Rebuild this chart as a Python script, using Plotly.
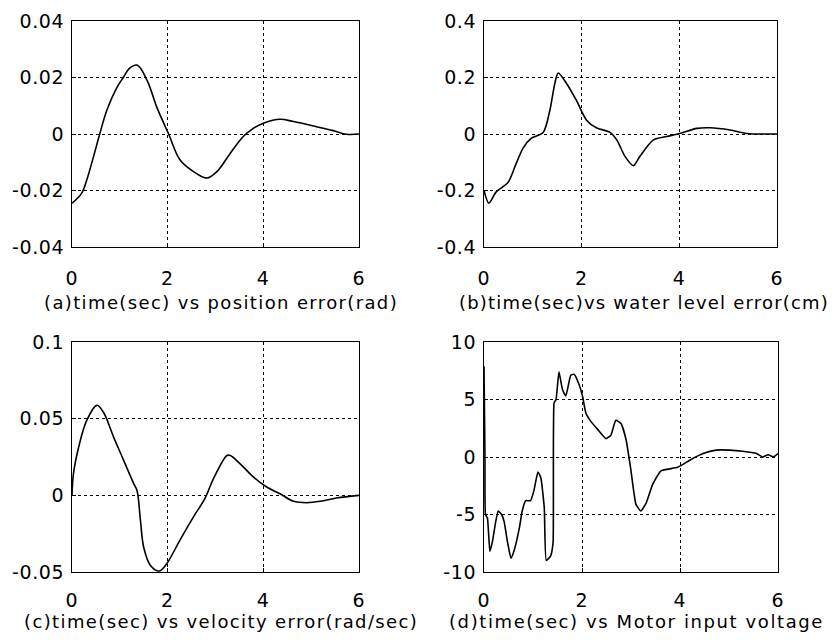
import plotly.graph_objects as go

# (a) position error (rad)
t_a = [0, 0.2, 0.31, 0.45, 0.58, 0.73, 0.94, 1.08, 1.2, 1.36, 1.57, 1.77, 2.02, 2.26,
       2.54, 2.82, 3.03, 3.31, 3.58, 3.79, 4.0, 4.35, 4.63, 5.11, 5.46, 5.74, 6.0]
err_a = [-0.0245, -0.021, -0.0162, -0.008, 0.0, 0.0085, 0.0165, 0.0202, 0.0232, 0.0244,
         0.019, 0.0096, 0.0, -0.0092, -0.0133, -0.0156, -0.0133, -0.0068, -0.0009, 0.002,
         0.0038, 0.0052, 0.0044, 0.0026, 0.0012, -0.0001, 0.0]

# (b) water level error (cm)
t_b = [0, 0.1, 0.25, 0.49, 0.66, 0.8, 0.97, 1.21, 1.35, 1.45, 1.52, 1.69, 1.89, 2.1,
       2.3, 2.58, 2.72, 2.89, 3.06, 3.19, 3.47, 3.74, 4.01, 4.36, 4.63, 5.04, 5.38, 6.0]
err_b = [-0.2, -0.245, -0.205, -0.172, -0.104, -0.05, -0.015, 0.005, 0.085, 0.179,
         0.216, 0.179, 0.12, 0.049, 0.022, 0.006, -0.021, -0.08, -0.112, -0.08, -0.021,
         -0.009, 0.002, 0.02, 0.022, 0.014, 0.002, 0.0]

# (c) velocity error (rad/sec)
t_c = [0, 0.03, 0.14, 0.31, 0.52, 0.66, 0.87, 1.08, 1.29, 1.36, 1.43, 1.5, 1.64, 1.83,
       1.98, 2.26, 2.54, 2.78, 2.96, 3.24, 3.31, 3.51, 3.79, 4.07, 4.35, 4.63, 4.91,
       5.19, 5.53, 6.0]
err_c = [0.0, 0.014, 0.0315, 0.049, 0.0587, 0.054, 0.038, 0.0228, 0.0076, 0.003,
         -0.016, -0.034, -0.0457, -0.0493, -0.0446, -0.029, -0.014, -0.002, 0.011,
         0.026, 0.026, 0.0207, 0.012, 0.0054, 0.001, -0.0039, -0.0048, -0.0039,
         -0.0017, 0.0]

# (d) motor input voltage
t_d = [0, 0.02, 0.03, 0.07, 0.12, 0.17, 0.24, 0.29, 0.36, 0.41, 0.48, 0.55, 0.61, 0.72,
       0.78, 0.85, 0.95, 1.02, 1.1, 1.16, 1.23, 1.27, 1.36, 1.41, 1.43, 1.47, 1.53, 1.6,
       1.67, 1.77, 1.84, 1.94, 2.01, 2.08, 2.18, 2.32, 2.49, 2.59, 2.69, 2.8, 2.9, 3.0,
       3.1, 3.2, 3.31, 3.44, 3.61, 3.95, 4.19, 4.47, 4.74, 5.01, 5.28, 5.56, 5.69, 5.8,
       5.9, 6.0]
volt_d = [7.9, 0.0, -5.0, -5.3, -8.2, -7.4, -5.6, -4.7, -5.0, -5.6, -7.4, -8.8, -8.2,
          -6.2, -4.7, -3.8, -3.8, -2.9, -1.3, -1.8, -4.4, -9.0, -8.6, -7.4, 4.7, 5.0,
          7.4, 5.9, 5.3, 7.1, 7.2, 6.3, 5.3, 3.8, 3.1, 2.4, 1.6, 1.9, 3.2, 2.9, 1.5,
          -1.2, -4.1, -4.7, -4.0, -2.4, -1.2, -0.9, -0.3, 0.3, 0.6, 0.6, 0.5, 0.3, 0.0,
          0.2, 0.0, 0.3]

x_ticks = [0, 2, 4, 6]
y_ticks_a = [-0.04, -0.02, 0, 0.02, 0.04]
y_text_a = ["-0.04", "-0.02", "0", "0.02", "0.04"]
y_ticks_b = [-0.4, -0.2, 0, 0.2, 0.4]
y_text_b = ["-0.4", "-0.2", "0", "0.2", "0.4"]
y_ticks_c = [-0.05, 0, 0.05, 0.1]
y_text_c = ["-0.05", "0", "0.05", "0.1"]
y_ticks_d = [-10, -5, 0, 5, 10]
y_text_d = ["-10", "-5", "0", "5", "10"]

captions = [
    "(a)time(sec) vs position error(rad)",
    "(b)time(sec)vs water level error(cm)",
    "(c)time(sec) vs velocity error(rad/sec)",
    "(d)time(sec) vs Motor input voltage",
]

# the page body has an 8px margin, so the figure is 8px smaller than the window
W, H = 828, 632
FONT = "DejaVu Sans"

# pixel boxes of the four plot areas (figure coords): left, right, top, bottom
boxes = [(64, 351, 13, 239), (476, 769, 13, 239), (64, 351, 334, 564), (476, 770, 334, 564)]
caption_pos = [(213, 294), (636, 294), (213, 613), (628, 613)]
caption_track = [1.37, 1.2, 1.38, 1.6]
xlabel_gap = [14, 14, 11, 11]

series = [(t_a, err_a), (t_b, err_b), (t_c, err_c), (t_d, volt_d)]
yranges = [(-0.04, 0.04), (-0.4, 0.4), (-0.05, 0.1), (-10, 10)]
yticks = [(y_ticks_a, y_text_a), (y_ticks_b, y_text_b), (y_ticks_c, y_text_c), (y_ticks_d, y_text_d)]
smooth = [1.0, 0.8, 1.0, 0.4]


def spaced(s, px):
    # scanned lettering is set wide, so open up the tracking a little
    return '<span style="letter-spacing:%spx">%s</span>' % (px, s)


fig = go.Figure()

axis_common = dict(
    showline=True, linecolor="black", linewidth=1, mirror=True,
    showgrid=True, gridcolor="black", griddash="dot", gridwidth=1,
    zeroline=False, ticks="inside", ticklen=4, tickcolor="black", automargin=False,
    tickfont=dict(family=FONT, size=19, color="black"),
)

for i, ((t, v), (l, r, top, bot)) in enumerate(zip(series, boxes)):
    n = "" if i == 0 else str(i + 1)
    fig.add_trace(go.Scatter(x=t, y=v, mode="lines",
                             line=dict(color="black", width=1.6, shape="spline", smoothing=smooth[i]),
                             xaxis="x" + n, yaxis="y" + n, showlegend=False))
    fig.layout["xaxis" + n] = dict(
        axis_common, domain=[l / W, r / W], anchor="y" + n, range=[0, 6],
        tickvals=x_ticks, ticktext=[spaced(str(x), 1) for x in x_ticks],
        ticklabelstandoff=xlabel_gap[i],
    )
    fig.layout["yaxis" + n] = dict(
        axis_common, domain=[(H - bot) / H, (H - top) / H], anchor="x" + n,
        range=list(yranges[i]), tickvals=yticks[i][0],
        ticktext=[spaced(s, 0.6) for s in yticks[i][1]], ticklabelstandoff=3,
    )
    cx, cy = caption_pos[i]
    fig.add_annotation(text=spaced(captions[i], caption_track[i]), x=cx / W, y=(H - cy) / H,
                       xref="paper", yref="paper", xanchor="center", yanchor="middle",
                       showarrow=False, font=dict(family=FONT, size=18, color="black"))

fig.update_layout(
    width=W, height=H, margin=dict(l=0, r=0, t=0, b=0),
    paper_bgcolor="white", plot_bgcolor="white",
)

fig.write_html("out.html")
